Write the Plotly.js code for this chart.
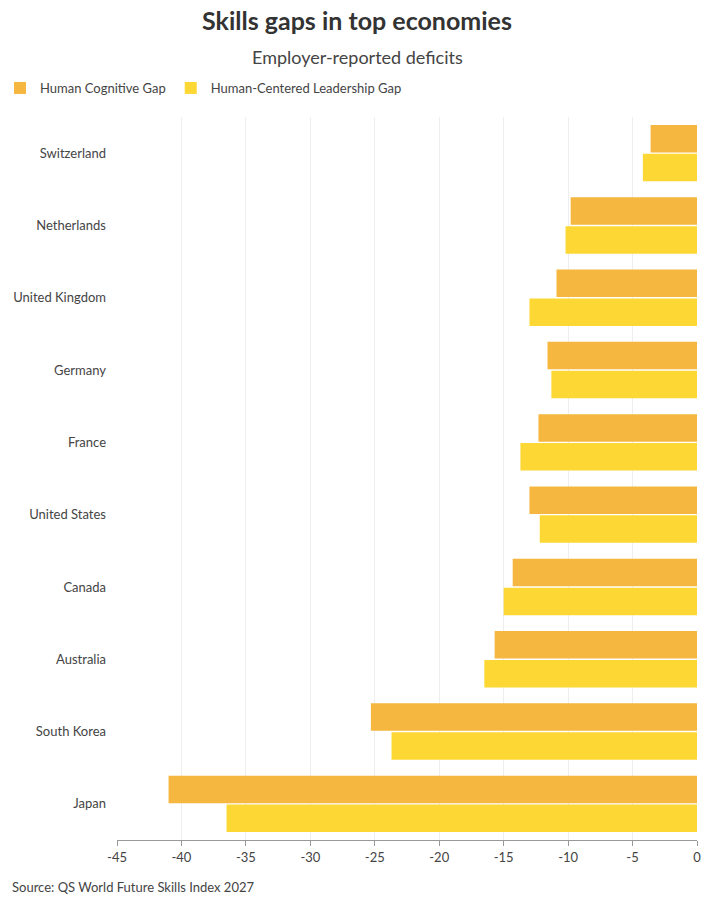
<!DOCTYPE html>
<html><head><script src="https://cdn.plot.ly/plotly-3.0.1.min.js"></script>
<style>body{margin:0}</style></head><body>
<div id="c" style="width:714px;height:901px"></div>
<script>
const countries=["Switzerland","Netherlands","United Kingdom","Germany","France","United States","Canada","Australia","South Korea","Japan"];
const cognitive=[-3.6,-9.8,-10.9,-11.6,-12.3,-13.0,-14.3,-15.7,-25.3,-41.0];
const leadership=[-4.2,-10.2,-13.0,-11.3,-13.7,-12.2,-15.0,-16.5,-23.7,-36.5];
const tickVals=[-45,-40,-35,-30,-25,-20,-15,-10,-5,0];
const tickText=["-45","-40","-35","-30","-25","-20","-15","-10","-5","0"];
const f="Lato, 'Open Sans', sans-serif";
const ph=901-117-61;
Plotly.newPlot('c',[
{type:'bar',orientation:'h',y:countries,x:cognitive,name:'Human Cognitive Gap',marker:{color:'#F5B73F'}},
{type:'bar',orientation:'h',y:countries,x:leadership,name:'Human-Centered Leadership Gap',marker:{color:'#FDD835'}}
],{
width:714,height:901,paper_bgcolor:'white',plot_bgcolor:'white',
font:{family:f,color:'#444',size:13},
margin:{l:117,r:17,t:117,b:61},
barmode:'group',bargap:0.2,bargroupgap:0.05,
title:{text:'<b>Skills gaps in top economies</b>',x:0.5,xref:'container',y:1-12/901,yanchor:'top',font:{size:25,color:'#333',family:f}},
annotations:[
{text:'Employer-reported deficits',x:(357-117)/580,y:1+(117-57)/ph,xref:'paper',yref:'paper',yanchor:'middle',showarrow:false,font:{size:18,color:'#444'}},
{text:'Source: QS World Future Skills Index 2027',xref:'paper',yref:'paper',x:-107/580,y:-(884-840+3)/ph,xanchor:'left',yanchor:'middle',showarrow:false,font:{size:13,color:'#444'}}
],
legend:{orientation:'h',xref:'container',yref:'container',x:0,y:1-88/901,xanchor:'left',yanchor:'middle',font:{size:13},itemwidth:10,traceorder:'normal',itemsizing:'constant'},
xaxis:{range:[-45,0],tickvals:tickVals,ticktext:tickText,gridcolor:'#eee',zeroline:false,ticks:'outside',ticklen:5,tickcolor:'#999',showline:true,linecolor:'#999',automargin:false},
yaxis:{autorange:'reversed',ticks:'',showline:false,ticklabelstandoff:10,automargin:false}
},{displayModeBar:false});
</script></body></html>
